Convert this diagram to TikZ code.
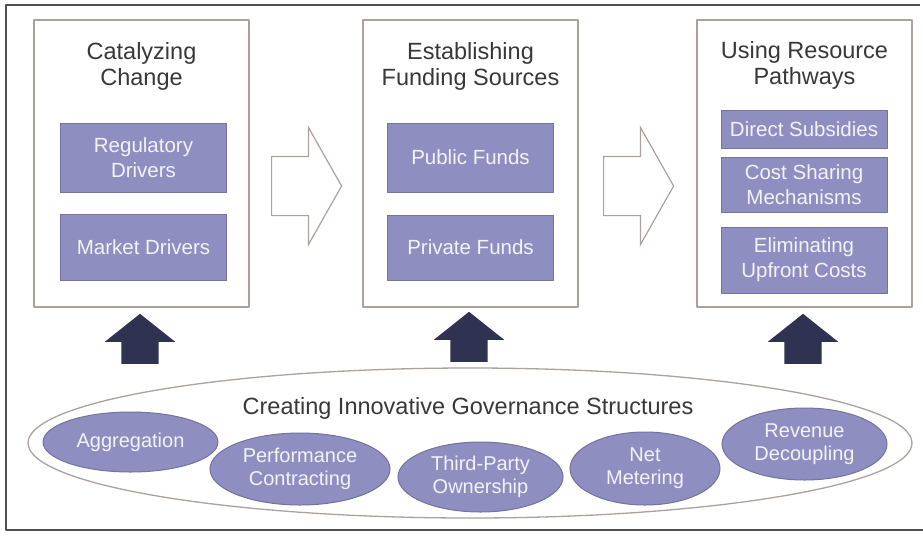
\documentclass[tikz,border=0pt]{standalone}
\usepackage{fontspec}
\setmainfont{Liberation Sans}
\usepackage{tikz}
\usetikzlibrary{positioning,shapes.geometric,shapes.arrows}
\definecolor{frameink}{HTML}{505050}
\definecolor{boxline}{HTML}{ABA19D}
\definecolor{titleink}{HTML}{383838}
\definecolor{driverfill}{HTML}{8E8FC0}
\definecolor{driverline}{HTML}{72739E}
\definecolor{drivertext}{HTML}{F2F2F8}
\definecolor{pushnavy}{HTML}{2F3250}
\tikzset{
    every picture/.style={line cap=round,line join=round},
    stagebox/.style={draw=boxline,line width=1.3pt,
      minimum width=215pt,minimum height=287pt,inner sep=0pt},
    stagetitle/.style={inner sep=0pt,align=center,text=titleink,
      font=\fontsize{23.5}{26}\selectfont},
    driverbox/.style={draw=driverline,fill=driverfill,line width=1pt,
      minimum width=166pt,inner sep=2pt,text=drivertext,align=center,
      font=\fontsize{20.5}{25}\selectfont},
    govoval/.style={ellipse,draw=driverline,fill=driverfill,line width=1pt,
      inner sep=0pt,text=drivertext,align=center,
      font=\fontsize{20}{23}\selectfont},
    umbrella/.style={ellipse,draw=boxline,line width=1.3pt,
      minimum width=884pt,minimum height=150pt,inner sep=0pt},
    % shaft width comes from the inner sep across the arrow
    flowarrow/.style={single arrow,draw=boxline,fill=white,line width=1.2pt,
      line join=miter,inner xsep=0pt,inner ysep=29pt,minimum height=70pt,
      single arrow head extend=29pt,single arrow tip angle=121,anchor=tail},
    pusharrow/.style={single arrow,fill=pushnavy,inner xsep=18.5pt,inner ysep=0pt,
      minimum height=50pt,single arrow head extend=16.5pt,
      single arrow tip angle=103,shape border rotate=90,anchor=tail}
}

\begin{document}
\begin{tikzpicture}[x=1pt,y=-1pt]
    \useasboundingbox (0,0) rectangle (923,536);
    % frame, open on the right side
    \draw[frameink,line width=1.6pt,line cap=butt] (920,5) -- (6,5) -- (6,530) -- (923,530);

    % the three stages
    \node[stagebox] (catalyze) at (141.5,163.5) {};
    \node[stagebox] (funding) at (470.5,163.5) {};
    \node[stagebox] (pathways) at (804.5,163.5) {};
    \node[stagetitle,below=23pt of catalyze.north] (catalyzetitle) {Catalyzing\\Change};
    \node[stagetitle,below=23pt of funding.north] (fundingtitle) {Establishing\\Funding Sources};
    \node[stagetitle,below=22pt of pathways.north] (pathwaystitle) {Using Resource\\Pathways};

    \node[driverbox,minimum height=69pt] (regulatory) at (143.5,157.5) {Regulatory\\Drivers};
    \node[driverbox,minimum height=66pt] (market) at (143.5,247) {Market Drivers};
    \node[driverbox,minimum height=69pt] (public) at (470.5,157.5) {Public Funds};
    \node[driverbox,minimum height=65pt] (private) at (470.5,247.5) {Private Funds};
    \node[driverbox,minimum height=38pt] (direct) at (804,129) {Direct Subsidies};
    \node[driverbox,minimum height=55pt] (costshare) at (804,184.5) {Cost Sharing\\Mechanisms};
    \node[driverbox,minimum height=66pt] (upfront) at (804,260) {Eliminating\\Upfront Costs};

    % hollow arrows between stages
    \node[flowarrow] (flowA) at (271,186) {};
    \node[flowarrow] (flowB) at (603,186) {};

    % governance pushes every stage
    \node[pusharrow] (pushA) at (140,364) {};
    \node[pusharrow] (pushB) at (469,362) {};
    \node[pusharrow] (pushC) at (803,364) {};

    \node[umbrella] (governance) at (470,443) {};
    \node[stagetitle,anchor=base] (govtitle) at (468,414) {Creating Innovative Governance Structures};
    \node[govoval,minimum width=175pt,minimum height=60pt] (aggregation) at (130.5,442) {Aggregation};
    \node[govoval,minimum width=180pt,minimum height=72pt] (performance) at (300,469) {Performance\\Contracting};
    \node[govoval,minimum width=165pt,minimum height=70pt] (thirdparty) at (480.5,477) {Third-Party\\Ownership};
    \node[govoval,minimum width=150pt,minimum height=73pt] (netmetering) at (645,468.5) {Net\\Metering};
    \node[govoval,minimum width=165pt,minimum height=72pt] (decoupling) at (804.5,444) {Revenue\\Decoupling};
\end{tikzpicture}
\end{document}
